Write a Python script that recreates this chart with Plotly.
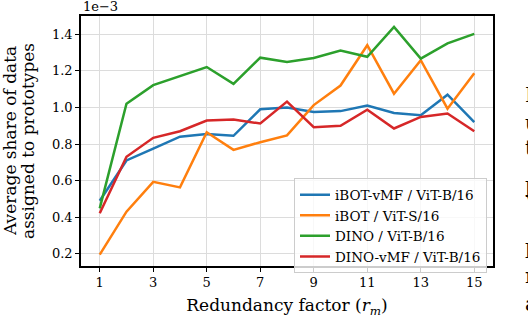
import plotly.graph_objects as go

# redundancy factor r_m
x_vals = list(range(1, 16))

# average share of data assigned to prototypes (units of 1e-3)
ibot_vmf = [0.49, 0.71, 0.775, 0.84, 0.855, 0.845, 0.99, 1.0, 0.975, 0.98, 1.01, 0.97, 0.957, 1.07, 0.92]
ibot = [0.195, 0.43, 0.593, 0.563, 0.864, 0.768, 0.81, 0.847, 1.013, 1.12, 1.34, 1.075, 1.258, 0.993, 1.187]
dino = [0.448, 1.02, 1.122, 1.17, 1.221, 1.129, 1.272, 1.249, 1.27, 1.311, 1.277, 1.44, 1.267, 1.35, 1.402]
dino_vmf = [0.421, 0.73, 0.834, 0.87, 0.928, 0.934, 0.912, 1.032, 0.892, 0.9, 0.988, 0.885, 0.948, 0.967, 0.87]

names = ["iBOT-vMF / ViT-B/16", "iBOT / ViT-S/16", "DINO / ViT-B/16", "DINO-vMF / ViT-B/16"]
series = [ibot_vmf, ibot, dino, dino_vmf]
colors = ["#1f77b4", "#ff7f0e", "#2ca02c", "#d62728"]

# cut-off letters of the paper text on the right edge
side_letters = ["I", "u", "t", "p", "V", "p", "r", "a"]
side_ys = [97, 126, 152, 190, 209, 253, 283, 312]

FONT = "DejaVu Serif"

fig = go.Figure()
for name, ys, col in zip(names, series, colors):
    fig.add_trace(go.Scatter(x=x_vals, y=ys, mode="lines", name=name,
                             line=dict(color=col, width=2.5)))

W, H = 528, 324
L, R, T, B = 81, 35, 16, 51
pw, ph = W - L - R, H - T - B

axis_common = dict(showline=True, linecolor="black", linewidth=1.5, mirror=True,
                   ticks="outside", ticklen=4, tickwidth=1, tickcolor="black",
                   showgrid=True, gridcolor="#dcdcdc", gridwidth=1, zeroline=False,
                   tickfont=dict(family=FONT, size=13, color="black"))

fig.update_layout(
    width=W, height=H,
    margin=dict(l=L, r=R, t=T, b=B),
    paper_bgcolor="white", plot_bgcolor="white",
    font=dict(family=FONT, color="black"),
    xaxis=dict(range=[0.3, 15.7], tickvals=list(range(1, 16, 2)),
               title=dict(text="Redundancy factor (<i>r</i><sub><i>m</i></sub>)",
                          font=dict(family=FONT, size=17), standoff=10),
               **axis_common),
    yaxis=dict(range=[0.133, 1.50], tickvals=[0.2, 0.4, 0.6, 0.8, 1.0, 1.2, 1.4],
               tickformat=".1f", **axis_common),
    legend=dict(x=(487 - L) / pw, y=(H - B - 183) / ph, xanchor="right", yanchor="top",
                bgcolor="rgba(255,255,255,0.8)", bordercolor="#cccccc", borderwidth=1,
                font=dict(family=FONT, size=13.5), itemwidth=30),
    showlegend=True,
)

# y title as two rotated lines
for line, xc in [("Average share of data", 10), ("assigned to prototypes", 28)]:
    fig.add_annotation(text=line, xref="paper", yref="paper", x=(xc - L) / pw, y=0.5,
                       xanchor="center", yanchor="middle", textangle=-90,
                       showarrow=False, font=dict(family=FONT, size=17))
fig.add_annotation(text="1e\u22123", xref="paper", yref="paper",
                   x=0, y=(H - B - 6) / ph, xanchor="left", yanchor="middle",
                   showarrow=False, font=dict(family=FONT, size=13))

for ch, yy in zip(side_letters, side_ys):
    fig.add_annotation(text=ch, xref="paper", yref="paper",
                       x=(523 - L) / pw, y=(H - B - yy) / ph,
                       xanchor="left", yanchor="middle", showarrow=False,
                       font=dict(family=FONT, size=20))

fig.write_html("out.html", config={"displayModeBar": False},
               post_script="document.body.style.margin='0';")
